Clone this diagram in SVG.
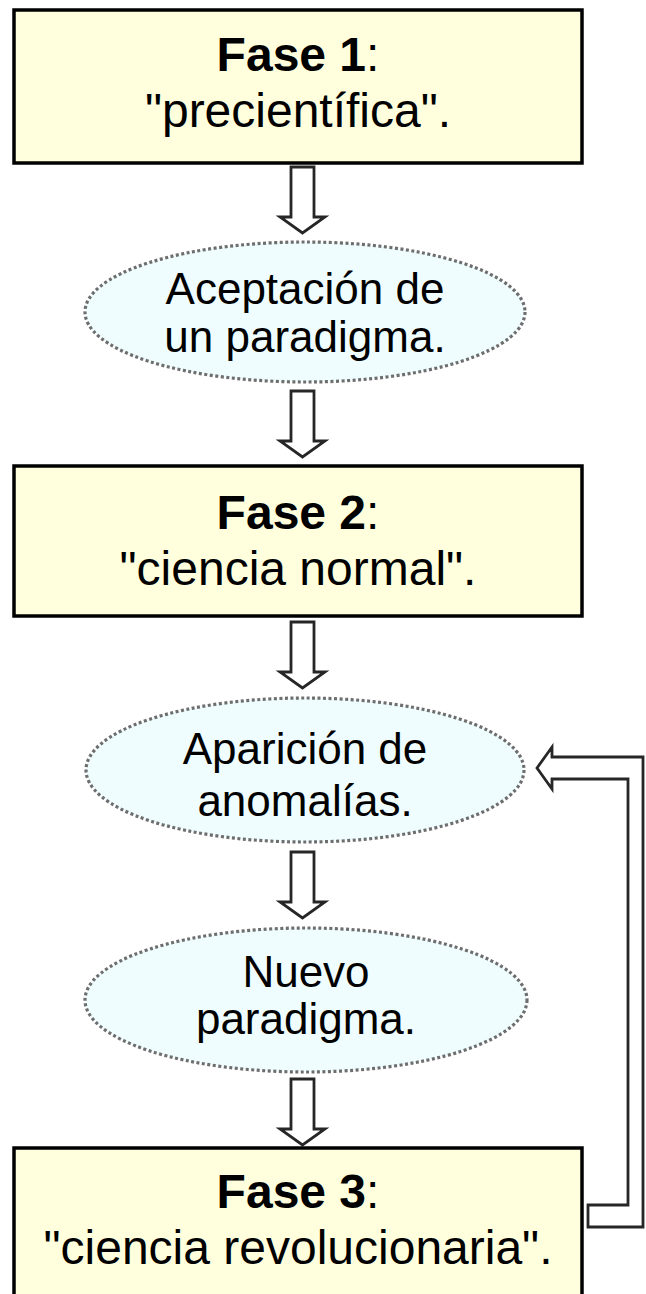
<svg xmlns="http://www.w3.org/2000/svg" width="646" height="1294" viewBox="0 0 646 1294">
<style>
.box{fill:#ffffdd;stroke:#000;stroke-width:3.5}
.ell{fill:#effdfe;stroke:#6e6e6e;stroke-width:3.2;stroke-dasharray:3 2.5}
.arr{fill:#fff;stroke:#262626;stroke-width:2.8;stroke-linejoin:miter}
text{font-family:"Liberation Sans",Arial,sans-serif;fill:#000;text-anchor:middle}
.t{font-size:48px}
.e{font-size:44px}
.b{font-weight:bold}
</style>
<rect width="646" height="1294" fill="#fff"/>
<g id="connectors">
<polygon class="arr" points="291,167 314,167 314,217 325,217 302.5,233 280,217 291,217"/>
<polygon class="arr" points="291,391 314,391 314,441 325,441 302.5,457 280,441 291,441"/>
<polygon class="arr" points="291,622 314,622 314,672 325,672 302.5,688 280,672 291,672"/>
<polygon class="arr" points="291,852 314,852 314,902 325,902 302.5,918 280,902 291,902"/>
<polygon class="arr" points="291,1079 314,1079 314,1129 325,1129 302.5,1145 280,1129 291,1129"/>
<polygon class="arr" points="537,768 552,747 552,757 643,757 643,1227 588,1227 588,1205 628,1205 628,779 552,779 552,789"/>
</g>
<g id="fase1">
<rect class="box" x="14" y="10" width="568" height="153"/>
<text class="t" x="298" y="71"><tspan class="b">Fase 1</tspan>:</text>
<text class="t" x="298" y="127">"precientífica".</text>
</g>
<g id="aceptacion">
<ellipse class="ell" cx="305" cy="312" rx="220" ry="70"/>
<text class="e" x="305" y="304">Aceptación de</text>
<text class="e" x="305" y="352">un paradigma.</text>
</g>
<g id="fase2">
<rect class="box" x="14" y="466" width="568" height="150"/>
<text class="t" x="298" y="529"><tspan class="b">Fase 2</tspan>:</text>
<text class="t" x="298" y="585">"ciencia normal".</text>
</g>
<g id="anomalias">
<ellipse class="ell" cx="305" cy="770" rx="219" ry="72"/>
<text class="e" x="305" y="764">Aparición de</text>
<text class="e" x="305" y="816">anomalías.</text>
</g>
<g id="nuevo">
<ellipse class="ell" cx="306" cy="1000" rx="221" ry="72"/>
<text class="e" x="306" y="987">Nuevo</text>
<text class="e" x="306" y="1034">paradigma.</text>
</g>
<g id="fase3">
<rect class="box" x="14" y="1148" width="568" height="160"/>
<text class="t" x="298" y="1208"><tspan class="b">Fase 3</tspan>:</text>
<text class="t" x="298" y="1264">"ciencia revolucionaria".</text>
</g>
</svg>
